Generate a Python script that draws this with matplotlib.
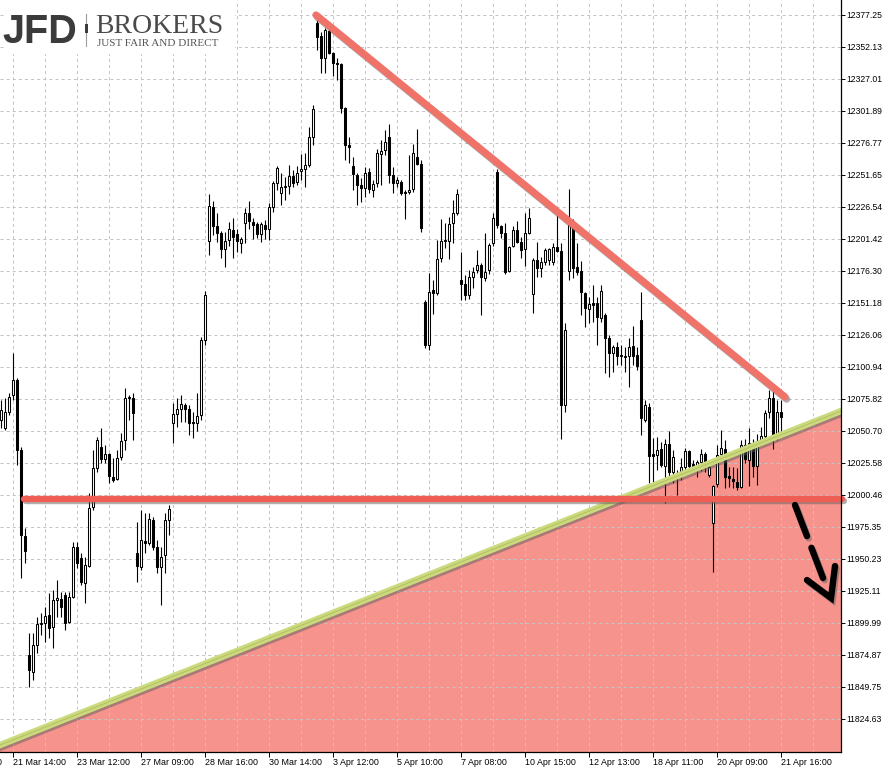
import matplotlib
matplotlib.use("Agg")
import matplotlib.pyplot as plt
import matplotlib.patheffects as pe
from matplotlib.patches import Rectangle
from matplotlib.lines import Line2D
import numpy as np

plt.rcParams['lines.scale_dashes'] = False
plt.rcParams['font.family'] = ['Liberation Sans', 'DejaVu Sans']

# DAX candles (one bar per index), prices
opens = [
    12059.3, 12053.0, 12065.6, 12079.0, 12090.7, 12035.8, 11968.3, 11874.9, 11861.5, 11882.7,
    11899.2, 11899.9, 11906.3, 11896.8, 11918.0, 11918.8, 11922.0, 11900.7, 11920.4, 11959.6,
    11951.0, 11931.3, 11944.7, 11991.0, 12021.6, 12038.1, 12028.7, 12032.6, 12014.6, 12013.0,
    12030.2, 12043.6, 12076.6, 12076.6, 11954.9, 11943.9, 11964.3, 11962.7, 11980.8, 11959.6,
    11943.9, 11953.4, 11980.8, 12056.9, 12064.0, 12067.9, 12071.1, 12067.9, 12057.7, 12056.9,
    12063.3, 12122.1, 12199.8, 12226.5, 12211.6, 12206.1, 12193.5, 12200.6, 12208.5, 12205.3,
    12198.2, 12213.9, 12221.8, 12214.7, 12213.1, 12205.3, 12212.4, 12209.2, 12226.5, 12245.4,
    12237.5, 12242.2, 12243.0, 12250.8, 12246.1, 12254.8, 12256.3, 12259.5, 12281.5, 12371.0,
    12360.7, 12343.5, 12364.7, 12347.4, 12339.5, 12338.8, 12304.2, 12275.2, 12258.7, 12251.6,
    12243.8, 12241.4, 12254.0, 12239.9, 12245.4, 12268.1, 12271.3, 12281.5, 12251.6, 12245.4,
    12246.1, 12238.3, 12238.3, 12240.6, 12265.8, 12260.3, 12151.9, 12118.2, 12161.4, 12159.0,
    12186.5, 12199.8, 12199.8, 12213.9, 12221.8, 12169.2, 12166.1, 12157.4, 12171.6, 12177.1,
    12181.0, 12170.8, 12177.1, 12198.2, 12254.0, 12211.6, 12206.1, 12176.3, 12195.9, 12208.5,
    12199.0, 12193.5, 12206.1, 12158.2, 12184.9, 12178.6, 12183.3, 12184.9, 12183.3, 12195.1,
    12192.0, 12071.1, 12176.3, 12215.5, 12179.4, 12176.3, 12159.0, 12146.4, 12151.1, 12151.1,
    12139.4, 12141.7, 12123.7, 12111.9, 12116.6, 12110.3, 12109.5, 12109.5, 12117.4, 12110.3,
    12137.8, 12059.3, 12069.5, 12032.6, 12031.8, 12036.5, 12023.2, 12040.5, 12018.5, 12013.8,
    12017.7, 12022.4, 12035.0, 12024.8, 12021.6, 12026.3, 12032.6, 12016.1, 11978.5, 12009.1,
    12032.6, 12036.5, 12015.4, 12013.0, 12010.6, 12006.7, 12039.7, 12027.9, 12041.2, 12023.2,
    12042.8, 12046.7, 12065.6, 12076.6, 12046.7, 12065.6]

highs = [
    12075.0, 12076.6, 12080.5, 12111.9, 12092.3, 12038.1, 11974.5, 11892.1, 11892.1, 11904.7,
    11907.8, 11912.5, 11923.5, 11925.9, 11933.7, 11924.3, 11924.3, 11924.3, 11963.5, 11963.5,
    11954.9, 11951.8, 12002.0, 12035.8, 12046.0, 12053.0, 12039.7, 12033.4, 12029.4, 12035.8,
    12049.1, 12084.4, 12079.0, 12080.5, 11979.2, 11988.7, 11986.3, 11986.3, 11983.2, 11965.1,
    11959.6, 11986.3, 11992.6, 12072.6, 12076.6, 12079.0, 12072.6, 12071.1, 12065.6, 12080.5,
    12124.5, 12160.6, 12236.9, 12231.2, 12221.8, 12207.7, 12206.9, 12214.7, 12217.9, 12209.2,
    12202.9, 12225.7, 12231.2, 12217.9, 12214.7, 12214.7, 12216.3, 12229.6, 12246.9, 12258.7,
    12253.2, 12250.1, 12259.5, 12255.6, 12258.7, 12268.1, 12268.9, 12289.3, 12306.6, 12375.7,
    12363.9, 12367.0, 12367.0, 12348.2, 12343.5, 12339.5, 12305.0, 12281.5, 12265.8, 12253.2,
    12249.3, 12257.9, 12257.1, 12247.7, 12272.0, 12279.1, 12287.0, 12291.7, 12257.9, 12250.1,
    12247.7, 12239.9, 12267.3, 12276.0, 12287.7, 12263.4, 12153.5, 12174.7, 12169.2, 12200.6,
    12217.1, 12213.9, 12218.7, 12232.0, 12240.6, 12191.2, 12173.1, 12177.1, 12179.4, 12192.8,
    12182.5, 12206.1, 12198.2, 12221.8, 12256.3, 12212.4, 12213.9, 12195.9, 12211.6, 12215.5,
    12202.9, 12221.8, 12225.7, 12186.5, 12199.0, 12187.3, 12194.3, 12194.3, 12198.2, 12220.2,
    12198.2, 12135.5, 12240.6, 12217.1, 12198.2, 12184.1, 12159.8, 12155.9, 12165.3, 12155.9,
    12165.3, 12143.3, 12126.0, 12118.2, 12120.5, 12118.2, 12116.6, 12123.7, 12133.1, 12116.6,
    12159.8, 12075.0, 12072.6, 12045.2, 12046.0, 12042.0, 12044.4, 12050.7, 12035.8, 12020.1,
    12029.4, 12037.3, 12035.8, 12027.9, 12027.9, 12036.5, 12034.2, 12027.9, 12008.3, 12039.7,
    12051.5, 12043.6, 12022.4, 12022.4, 12021.6, 12043.6, 12044.4, 12053.0, 12044.4, 12048.3,
    12053.8, 12067.2, 12082.9, 12082.1, 12075.0, 12075.0]

lows = [
    12053.0, 12051.5, 12063.3, 12075.0, 12024.0, 11935.3, 11947.0, 11849.7, 11855.2, 11876.4,
    11890.5, 11885.0, 11888.2, 11880.3, 11904.7, 11904.7, 11894.5, 11899.9, 11919.6, 11943.1,
    11929.8, 11915.6, 11943.9, 11988.7, 12018.5, 12025.5, 12025.5, 12009.8, 12010.6, 12012.2,
    12027.9, 12035.8, 12059.3, 12043.6, 11932.1, 11941.6, 11954.9, 11961.2, 11957.3, 11939.2,
    11914.1, 11939.2, 11969.1, 12041.2, 12053.8, 12057.7, 12057.7, 12047.5, 12045.2, 12050.7,
    12059.3, 12118.2, 12188.8, 12204.5, 12199.0, 12186.5, 12179.4, 12195.9, 12186.5, 12191.2,
    12190.4, 12198.2, 12209.2, 12201.4, 12202.2, 12199.0, 12201.4, 12200.6, 12222.6, 12239.9,
    12228.1, 12232.0, 12236.7, 12242.2, 12243.8, 12247.7, 12242.2, 12257.9, 12275.2, 12349.8,
    12331.7, 12331.7, 12346.6, 12329.3, 12326.2, 12300.3, 12263.4, 12261.0, 12239.9, 12228.1,
    12230.4, 12234.4, 12237.5, 12234.4, 12242.2, 12243.8, 12267.3, 12245.4, 12237.5, 12242.2,
    12235.9, 12217.1, 12236.7, 12238.3, 12259.5, 12206.9, 12115.8, 12114.3, 12142.5, 12157.4,
    12183.3, 12194.3, 12185.7, 12198.2, 12220.2, 12153.5, 12153.5, 12154.3, 12162.9, 12174.7,
    12141.7, 12168.4, 12173.9, 12195.9, 12210.0, 12202.2, 12173.9, 12175.5, 12195.1, 12198.2,
    12186.5, 12180.2, 12205.3, 12143.3, 12171.6, 12171.6, 12181.0, 12181.0, 12181.0, 12191.2,
    12044.4, 12065.6, 12169.2, 12170.8, 12173.1, 12141.7, 12132.3, 12135.4, 12136.2, 12118.2,
    12136.2, 12096.2, 12093.1, 12097.0, 12102.5, 12102.5, 12097.0, 12085.2, 12102.5, 12098.6,
    12047.5, 12057.7, 12009.8, 12010.6, 12020.1, 12022.4, 11994.1, 12010.6, 12009.8, 12000.4,
    12012.2, 12016.1, 12020.8, 12020.1, 12014.6, 12019.3, 12018.5, 12014.6, 11940.0, 12006.7,
    12027.9, 12005.9, 12006.7, 12005.9, 12004.4, 12005.9, 12025.5, 12007.5, 12014.6, 12008.3,
    12041.2, 12043.6, 12060.9, 12036.5, 12043.6, 12049.9]

closes = [
    12067.2, 12065.6, 12077.4, 12090.7, 12035.8, 11969.1, 11956.5, 11863.1, 11882.7, 11899.2,
    11899.9, 11905.5, 11896.0, 11918.0, 11919.6, 11912.5, 11899.9, 11920.4, 11959.6, 11947.0,
    11932.1, 11945.5, 11990.2, 12021.6, 12043.6, 12028.7, 12032.6, 12015.4, 12012.2, 12029.4,
    12042.8, 12076.6, 12077.4, 12064.8, 11944.7, 11965.1, 11962.7, 11981.6, 11959.6, 11943.9,
    11951.8, 11980.8, 11989.4, 12064.0, 12067.9, 12071.9, 12067.9, 12056.9, 12056.9, 12062.5,
    12122.1, 12157.4, 12227.3, 12211.6, 12206.1, 12193.5, 12199.8, 12209.2, 12202.9, 12199.8,
    12201.4, 12221.8, 12215.5, 12212.4, 12205.3, 12213.1, 12209.2, 12226.5, 12245.4, 12257.1,
    12242.2, 12243.0, 12250.8, 12245.4, 12253.2, 12256.3, 12259.5, 12281.5, 12303.4, 12360.0,
    12343.5, 12365.5, 12347.4, 12339.5, 12338.8, 12304.2, 12275.2, 12273.6, 12252.4, 12243.8,
    12241.4, 12253.2, 12240.6, 12244.6, 12268.9, 12270.5, 12277.5, 12251.6, 12245.4, 12247.7,
    12237.5, 12237.5, 12239.9, 12268.9, 12260.3, 12210.0, 12118.2, 12159.8, 12159.0, 12185.7,
    12199.8, 12200.6, 12213.1, 12221.8, 12236.7, 12166.1, 12157.4, 12171.6, 12175.5, 12181.0,
    12171.6, 12175.5, 12196.7, 12217.9, 12212.4, 12206.1, 12175.5, 12195.1, 12208.5, 12199.0,
    12192.8, 12206.1, 12217.9, 12184.9, 12178.6, 12183.3, 12192.8, 12193.5, 12195.1, 12192.0,
    12071.1, 12130.0, 12213.9, 12178.6, 12175.5, 12159.8, 12147.2, 12150.4, 12149.6, 12140.2,
    12160.6, 12123.7, 12111.9, 12116.6, 12109.5, 12109.5, 12108.8, 12116.6, 12109.5, 12101.7,
    12060.9, 12071.1, 12031.0, 12031.0, 12035.8, 12024.0, 12040.5, 12018.5, 12030.2, 12017.7,
    12022.4, 12035.0, 12023.2, 12020.8, 12026.3, 12032.6, 12024.8, 12022.4, 12007.5, 12031.8,
    12037.3, 12014.6, 12013.8, 12011.4, 12006.7, 12039.7, 12028.7, 12041.2, 12023.2, 12042.8,
    12046.7, 12064.8, 12076.6, 12046.7, 12065.6, 12061.7]

price_levels = [12377.25, 12352.13, 12327.01, 12301.89, 12276.77, 12251.65, 12226.54,
                12201.42, 12176.30, 12151.18, 12126.06, 12100.94, 12075.82, 12050.70,
                12025.58, 12000.46, 11975.35, 11950.23, 11925.11, 11899.99, 11874.87,
                11849.75, 11824.63]

date_labels = ["21 Mar 14:00", "23 Mar 12:00", "27 Mar 09:00", "28 Mar 16:00",
               "30 Mar 14:00", "3 Apr 12:00", "5 Apr 10:00", "7 Apr 08:00",
               "10 Apr 15:00", "12 Apr 13:00", "18 Apr 11:00", "20 Apr 09:00",
               "21 Apr 16:00"]
date_bars = [3, 19, 35, 51, 67, 83, 99, 115, 131, 147, 163, 179, 195]
cut_label, cut_bar = "20 Mar 16:00", -13

# drawn analysis (bar index, price)
resistance_bars = [78.75, 196.0]
resistance_prices = [12377.2, 12077.4]
support_bars = [-1.5, 210.5]
support_prices = [11802.6, 12067.0]
level_bars = [5.75, 210.3]
level_price = 11997.5
arrow_bars = [198.5, 205.5]
arrow_prices = [11992.6, 11935.3]
head_bars = [201.5, 207.5, 208.5]
head_prices = [11933.7, 11919.6, 11944.7]

W, H = 885, 768
fig = plt.figure(figsize=(W / 100, H / 100), dpi=100, facecolor='white')
ax = fig.add_axes([0, 16 / H, 841 / W, 752 / H])
ax.set_xlim(-0.25, 210)
ax.set_ylim(11798.7, 12389.0)
ax.set_facecolor('white')

# grid
grid_kw = dict(color='#c4c4c4', lw=0.72, dashes=(2.2, 2.2), zorder=1)
for p in price_levels:
    ax.axhline(p, **grid_kw)
for b in np.arange(date_bars[0], 210, 8):
    ax.axvline(b, **grid_kw)

# shaded zone under the support line
ax.fill_between(support_bars, support_prices, ax.get_ylim()[0],
                color='#f5938c', lw=0, zorder=0.5)

# candles
x = np.arange(len(opens))
o, h, l, c = (np.array(a) for a in (opens, highs, lows, closes))
up = c >= o
ax.vlines(x, l, h, color='black', lw=0.8, zorder=3)
ax.bar(x[up], np.maximum(c[up] - o[up], 0.3), bottom=o[up], width=0.55,
       facecolor='white', edgecolor='black', lw=0.75, zorder=4)
ax.bar(x[~up], np.maximum(o[~up] - c[~up], 0.3), bottom=c[~up], width=0.55,
       facecolor='black', edgecolor='black', lw=0.75, zorder=4)

shadow = [pe.SimpleLineShadow(offset=(1.2, -1.6), shadow_color='#606060', alpha=0.5),
          pe.Normal()]

# support (green)
ax.plot(support_bars, support_prices, color='#c8dc7e', lw=4.6,
        solid_capstyle='round', path_effects=shadow, zorder=5)
ax.plot(support_bars, support_prices, color='#b0903e', lw=0.7, alpha=0.45, zorder=5.1)

# horizontal level
ax.plot(level_bars, [level_price, level_price], color='#ef5e55', lw=4.6,
        solid_capstyle='round', path_effects=shadow, zorder=6, clip_on=False)

# resistance (down trend)
ax.plot(resistance_bars, resistance_prices, color='#f07369', lw=5.2,
        solid_capstyle='round', path_effects=shadow, zorder=6)

# dashed arrow
ax.plot(arrow_bars, arrow_prices, color='black', lw=4.6, dashes=(24, 9),
        dash_capstyle='round', path_effects=shadow, zorder=7)
ax.plot(head_bars, head_prices, color='black', lw=4.6, solid_capstyle='round',
        solid_joinstyle='miter', path_effects=shadow, zorder=7)

# axes
for s in ('top', 'left'):
    ax.spines[s].set_visible(False)
for s in ('right', 'bottom'):
    ax.spines[s].set_color('black')
    ax.spines[s].set_linewidth(0.9)
    ax.spines[s].set_zorder(8)

ax.yaxis.tick_right()
ax.set_yticks(price_levels, labels=[f'{p:.2f}' for p in price_levels])
ax.tick_params(axis='y', length=3, width=0.7, pad=1.2, labelsize=6.2, colors='black')
ax.set_xticks(date_bars, labels=date_labels)
for t in ax.get_xticklabels():
    t.set_horizontalalignment('left')
ax.tick_params(axis='x', length=3.5, width=0.7, pad=0.8, labelsize=6.4, colors='black')
ax.annotate(cut_label, xy=(cut_bar, 0), xycoords=ax.get_xaxis_transform(),
            xytext=(0, -4.3), textcoords='offset points', ha='left', va='top',
            fontsize=6.4, annotation_clip=False)

# JFD Brokers logo
fig.add_artist(Rectangle((4 / W, 1 - 54 / H), 231 / W, 54 / H, transform=fig.transFigure,
                         facecolor='white', edgecolor='none', zorder=1))
fig.text(2 / W, 1 - 43 / H, 'JFD', fontsize=28.5, fontweight='bold', color='#3b3b3b',
         va='baseline', ha='left', zorder=3)
fig.add_artist(Line2D([86 / W, 86 / W], [1 - 14 / H, 1 - 46 / H], transform=fig.transFigure,
                      color='#9a9a9a', lw=0.8, zorder=3))
fig.add_artist(Rectangle((84.5 / W, 1 - 33 / H), 3 / W, 9 / H, transform=fig.transFigure,
                         facecolor='#3b3b3b', edgecolor='none', zorder=3))
fig.text(95 / W, 1 - 33 / H, 'BROKERS', family='Liberation Serif', fontsize=20,
         color='#4a4a4a', va='baseline', ha='left', zorder=3)
fig.text(97 / W, 1 - 46 / H, 'JUST FAIR AND DIRECT', family='Liberation Serif',
         fontsize=8, color='#555555', va='baseline', ha='left', zorder=3)

fig.savefig('out.png', dpi=100, facecolor='white')
